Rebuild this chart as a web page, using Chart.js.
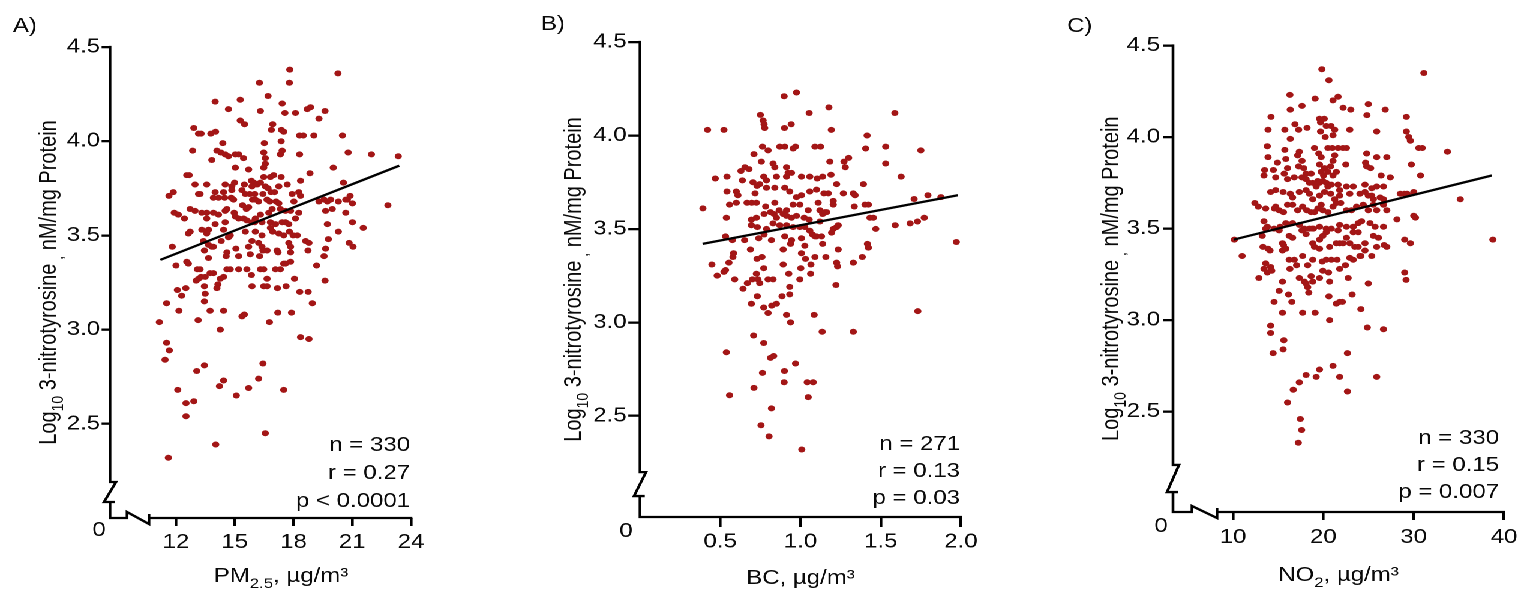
<!DOCTYPE html>
<html>
<head>
<meta charset="utf-8">
<script src="https://cdn.jsdelivr.net/npm/chart.js@4.4.0/dist/chart.umd.min.js"></script>
<style>
html,body{margin:0;padding:0;background:#fff;overflow:hidden;width:1520px;height:589px;}
#wrap{position:absolute;left:0;top:0;width:1266.667px;height:589px;transform:scaleX(1.2);transform-origin:0 0;}
canvas{position:absolute;top:0;}
</style>
</head>
<body>
<div id="wrap">
<canvas id="cA" width="415" height="589" style="left:0px"></canvas>
<canvas id="cB" width="425" height="589" style="left:415px"></canvas>
<canvas id="cC" width="440" height="589" style="left:840px"></canvas>
</div>
<script>
// ---------------- DATA ----------------
// Panel A: PM2.5 (µg/m³) vs Log10 3-nitrotyrosine
const pm25 = [
17.81,20.27,17.79,16.26,16.70,14.00,15.28,14.68,17.42,16.31,
17.56,18.10,18.70,18.87,19.61,19.30,15.28,15.50,16.94,12.91,
13.15,13.28,13.78,14.02,16.87,17.38,17.50,18.31,18.50,19.04,
20.50,17.37,16.51,14.39,14.09,14.29,14.51,14.68,15.03,15.20,
15.45,13.83,12.85,16.48,16.56,17.33,17.42,18.31,20.79,21.98,
23.35,15.03,15.71,16.56,16.48,20.03,12.55,12.67,18.84,16.48,
16.82,16.99,17.37,15.85,15.97,12.97,13.57,14.51,14.85,14.99,
15.49,15.88,16.14,16.31,16.56,16.70,17.25,17.68,18.36,20.55,
11.86,11.64,13.15,13.23,14.00,14.43,14.85,15.37,15.54,15.76,
16.02,16.44,16.85,17.03,17.93,18.27,18.36,20.89,20.75,20.67,
19.30,19.56,19.73,19.90,20.29,21.01,22.82,13.91,14.17,14.48,
14.82,14.94,15.91,16.05,16.22,16.65,16.79,17.11,17.25,18.02,
15.71,15.40,15.59,14.97,11.91,12.12,12.43,12.72,12.97,13.32,
13.57,13.91,14.17,14.51,14.60,15.03,15.20,15.45,15.62,16.05,
16.31,16.74,16.91,17.33,17.59,17.85,18.27,19.64,19.98,20.67,
14.51,14.00,15.88,16.02,13.57,16.39,16.82,17.08,17.42,17.59,
17.76,18.10,19.73,21.01,21.56,20.29,12.63,12.72,13.32,13.66,
13.57,14.43,14.68,14.77,15.54,16.05,16.39,16.82,16.94,17.25,
17.50,17.79,18.19,17.98,18.62,18.79,19.78,11.81,13.40,13.66,
13.91,13.45,13.83,14.31,14.60,15.06,15.71,15.88,16.22,16.44,
16.39,16.65,17.16,17.76,17.85,18.74,19.64,20.84,21.04,13.66,
14.56,15.20,15.79,16.27,17.21,17.85,12.55,12.63,12.00,17.50,
17.59,17.85,19.18,19.56,13.09,13.23,13.74,13.91,14.60,14.77,
15.20,15.62,15.85,16.31,16.48,17.08,17.33,16.65,13.15,13.28,
13.49,13.03,13.45,14.14,14.09,14.26,14.43,15.88,16.48,16.65,
17.18,17.62,18.05,19.61,12.07,12.29,12.50,13.49,13.45,11.52,
12.15,13.74,14.43,15.37,15.49,13.13,17.20,17.90,16.77,18.32,
18.75,18.96,11.15,14.26,18.36,18.79,11.52,11.66,11.44,13.45,
16.44,13.06,14.43,14.22,16.22,15.71,17.50,12.09,15.08,12.91,
12.51,12.51,16.56,14.03,11.61];
const nitroA = [
4.38,4.36,4.31,4.31,4.24,4.21,4.22,4.17,4.20,4.16,
4.15,4.15,4.17,4.18,4.16,4.12,4.11,4.09,4.09,4.07,
4.04,4.04,4.04,4.05,4.06,4.06,4.05,4.03,4.03,4.03,
4.03,4.00,3.99,3.99,3.95,3.94,3.93,3.92,3.93,3.93,
3.91,3.90,3.95,3.94,3.91,3.93,3.95,3.93,3.94,3.93,
3.92,3.86,3.85,3.88,3.86,3.86,3.82,3.82,3.83,3.81,
3.81,3.82,3.81,3.79,3.78,3.77,3.77,3.77,3.76,3.78,
3.77,3.76,3.77,3.78,3.76,3.75,3.76,3.77,3.79,3.78,
3.73,3.71,3.72,3.72,3.73,3.73,3.74,3.74,3.72,3.72,
3.72,3.72,3.73,3.73,3.72,3.73,3.71,3.71,3.69,3.69,
3.68,3.69,3.68,3.69,3.68,3.67,3.66,3.70,3.70,3.70,
3.70,3.69,3.69,3.69,3.68,3.69,3.68,3.68,3.67,3.68,
3.65,3.66,3.64,3.62,3.62,3.61,3.59,3.64,3.63,3.62,
3.62,3.62,3.61,3.63,3.64,3.60,3.59,3.59,3.58,3.59,
3.61,3.62,3.64,3.64,3.63,3.63,3.62,3.63,3.64,3.62,
3.57,3.56,3.57,3.57,3.59,3.57,3.57,3.56,3.57,3.57,
3.56,3.59,3.56,3.57,3.54,3.52,3.51,3.52,3.53,3.53,
3.51,3.53,3.49,3.50,3.52,3.52,3.50,3.54,3.52,3.51,
3.50,3.52,3.50,3.50,3.47,3.46,3.48,3.44,3.47,3.45,
3.44,3.42,3.44,3.47,3.41,3.43,3.44,3.47,3.46,3.42,
3.44,3.42,3.42,3.46,3.44,3.42,3.43,3.46,3.44,3.38,
3.39,3.39,3.40,3.39,3.41,3.41,3.36,3.35,3.34,3.35,
3.35,3.36,3.34,3.39,3.32,3.32,3.30,3.30,3.32,3.32,
3.32,3.32,3.29,3.32,3.32,3.32,3.32,3.27,3.27,3.28,
3.28,3.26,3.23,3.24,3.22,3.27,3.28,3.23,3.23,3.23,
3.22,3.23,3.27,3.26,3.21,3.18,3.22,3.19,3.15,3.14,
3.10,3.10,3.10,3.07,3.08,3.05,3.09,3.09,3.04,3.20,
3.20,3.14,3.04,3.00,2.96,2.95,2.93,2.89,2.84,2.81,
2.82,2.78,2.73,2.70,2.74,2.69,2.68,2.68,2.65,2.62,
2.61,2.54,2.45,2.39,2.32];
const fitA_x = [11.2, 23.4];
const fitA_y = [3.37, 3.87];

// Panel B: BC (µg/m³)
const bc = [
0.975,0.898,1.054,1.177,1.588,0.750,0.767,0.773,0.777,0.942,
0.900,0.421,0.523,1.192,1.415,0.763,0.798,0.871,0.902,0.969,
0.954,1.090,1.125,1.406,1.531,1.750,0.710,0.756,0.829,0.840,
0.913,0.923,0.944,1.183,1.271,1.300,1.279,1.531,0.679,0.654,
0.629,0.469,0.542,0.638,0.704,0.729,0.771,0.788,0.850,0.913,
1.006,1.058,1.104,1.138,1.190,1.225,1.392,1.627,0.542,0.600,
0.610,0.558,0.600,0.667,0.717,0.746,0.788,0.840,0.902,0.933,
0.975,1.006,1.058,1.100,1.146,1.173,1.204,1.267,1.329,1.340,
1.335,1.402,1.423,1.708,1.794,1.875,0.392,0.696,0.725,0.783,
0.840,0.867,0.913,0.954,0.996,1.048,1.110,1.121,1.138,1.152,
1.204,0.538,0.694,0.725,0.773,0.813,0.835,0.850,0.892,0.913,
0.944,0.975,1.023,1.054,1.121,1.163,1.225,1.235,1.433,1.454,
1.590,1.683,1.729,1.771,0.694,0.731,0.788,0.829,0.871,0.913,
0.954,0.996,1.027,1.058,1.075,1.100,1.131,1.194,1.204,1.469,
1.971,0.533,0.575,0.652,0.740,0.773,0.819,0.902,0.944,1.006,
1.027,1.090,1.138,1.235,1.417,1.423,0.688,0.729,0.760,0.892,
0.938,1.006,1.031,1.065,1.090,1.158,1.225,1.231,1.329,1.385,
0.448,0.481,0.533,0.523,0.554,0.579,0.583,0.590,0.642,0.669,
0.700,0.725,0.735,0.746,0.771,0.798,0.829,0.892,0.927,0.933,
0.996,1.002,1.063,1.221,0.731,0.694,0.771,0.798,0.821,0.850,
0.885,0.933,0.913,0.938,1.085,1.135,1.329,1.731,0.708,0.771,
0.538,0.813,0.833,0.969,0.763,0.900,0.898,1.042,1.079,0.710,
0.558,1.048,0.819,0.754,0.804,1.008];
const nitroB = [
4.23,4.21,4.12,4.15,4.12,4.11,4.08,4.06,4.04,4.06,
4.04,4.03,4.03,4.03,4.00,3.94,3.92,3.94,3.94,3.94,
3.93,3.94,3.94,3.93,3.94,3.92,3.90,3.86,3.85,3.83,
3.83,3.80,3.80,3.86,3.86,3.88,3.83,3.85,3.82,3.83,
3.81,3.77,3.78,3.76,3.75,3.73,3.78,3.76,3.78,3.78,
3.78,3.78,3.77,3.78,3.79,3.74,3.74,3.78,3.70,3.70,
3.68,3.63,3.64,3.64,3.69,3.74,3.72,3.72,3.72,3.70,
3.67,3.68,3.70,3.71,3.69,3.69,3.65,3.69,3.69,3.68,
3.62,3.63,3.63,3.66,3.68,3.67,3.61,3.64,3.64,3.62,
3.64,3.60,3.60,3.63,3.63,3.60,3.64,3.60,3.58,3.59,
3.63,3.56,3.55,3.56,3.58,3.59,3.58,3.56,3.58,3.57,
3.56,3.57,3.56,3.55,3.54,3.59,3.51,3.52,3.56,3.56,
3.52,3.53,3.54,3.56,3.52,3.51,3.50,3.53,3.52,3.52,
3.51,3.51,3.51,3.49,3.47,3.46,3.46,3.48,3.50,3.50,
3.43,3.46,3.44,3.44,3.45,3.47,3.44,3.46,3.44,3.45,
3.41,3.46,3.42,3.39,3.42,3.40,3.39,3.34,3.35,3.39,
3.42,3.37,3.34,3.31,3.35,3.35,3.32,3.30,3.32,3.35,
3.31,3.25,3.28,3.27,3.32,3.35,3.37,3.23,3.18,3.21,
3.23,3.26,3.23,3.21,3.29,3.23,3.23,3.31,3.26,3.19,
3.23,3.29,3.26,3.20,3.14,3.10,3.08,3.05,3.09,3.10,
3.14,3.15,3.04,3.00,3.04,2.95,2.95,3.06,2.93,2.89,
2.84,2.81,2.82,2.78,2.73,2.74,2.68,2.68,2.68,2.65,
2.61,2.60,2.54,2.45,2.39,2.32];
const fitB_x = [0.39, 1.98];
const fitB_y = [3.42, 3.68];

// Panel C: NO2 (µg/m³)
const no2 = [
19.84,31.13,20.62,16.30,19.09,21.63,21.07,17.64,24.98,16.34,
22.19,23.04,26.85,24.83,29.19,14.21,16.86,17.27,18.20,19.58,
19.69,20.10,20.32,20.85,21.26,22.93,25.91,29.19,29.46,29.64,
13.88,15.74,16.34,19.69,20.21,21.07,13.80,15.74,17.34,17.16,
19.02,19.50,19.76,20.51,20.99,21.63,22.19,22.56,21.26,21.07,
20.81,24.80,25.91,27.03,30.57,30.95,33.74,29.75,13.88,14.92,
15.85,17.64,16.04,17.27,17.83,18.09,18.65,19.58,19.76,20.14,
20.51,21.07,20.03,19.39,21.44,22.49,24.68,24.80,25.24,26.40,
27.41,30.76,13.50,13.43,14.47,14.73,15.67,16.04,16.78,17.64,
18.09,18.46,18.83,19.21,19.58,19.95,20.32,20.51,20.88,21.63,
21.81,22.56,23.31,24.61,25.36,25.91,26.66,14.17,14.73,15.55,
16.34,16.60,17.34,18.09,18.46,18.83,19.58,20.14,20.81,21.26,
21.81,22.93,24.05,24.61,24.98,25.36,25.54,26.29,26.66,28.52,
28.97,29.27,30.01,35.16,12.42,12.80,13.62,14.58,14.73,15.11,
15.59,16.04,16.60,17.16,17.71,18.16,18.65,19.02,19.39,19.76,
19.95,20.51,21.07,21.44,21.93,22.56,23.12,23.68,24.42,24.98,
25.54,26.66,27.03,25.91,30.20,30.01,13.43,13.80,14.55,15.22,
15.85,16.60,17.34,17.90,18.46,18.91,19.58,20.32,20.88,21.81,
22.56,23.31,23.86,24.24,25.17,25.73,26.66,28.15,10.15,11.01,
13.24,13.62,15.11,15.48,15.59,16.22,16.60,17.64,18.09,18.76,
19.58,19.95,20.32,21.63,21.81,22.56,23.31,23.86,24.61,25.54,
26.10,26.73,29.01,29.64,13.32,13.88,14.10,15.48,15.85,16.22,
17.71,18.83,19.02,19.58,20.70,21.44,22.19,22.93,23.49,23.86,
24.16,24.61,25.91,27.03,13.62,14.17,13.43,13.80,12.87,14.29,
15.48,16.30,16.78,17.04,18.27,18.83,19.88,20.32,20.88,21.52,
22.45,22.93,23.31,24.05,25.36,17.34,17.90,18.09,18.27,18.65,
18.83,19.58,19.95,20.70,20.58,21.81,22.75,24.98,29.01,29.16,
14.55,15.11,15.48,16.15,16.52,18.39,20.62,21.44,21.81,22.11,
23.19,24.16,17.71,19.09,20.70,24.87,26.66,14.17,14.17,14.44,
15.55,15.63,22.67,18.09,19.21,19.58,21.07,21.81,22.67,25.91,
16.67,17.34,16.04,17.45,17.60,17.23,38.77];
const nitroC = [
4.37,4.35,4.31,4.23,4.21,4.22,4.20,4.17,4.18,4.15,
4.16,4.15,4.15,4.12,4.11,4.11,4.07,4.04,4.05,4.10,
4.08,4.10,4.06,4.06,4.04,4.04,4.03,4.03,4.00,3.98,
4.04,4.04,3.99,4.03,4.00,4.01,3.95,3.93,3.92,3.90,
3.94,3.91,3.89,3.94,3.94,3.94,3.94,3.94,3.90,3.87,
3.84,3.91,3.89,3.89,3.94,3.94,3.92,3.85,3.89,3.86,
3.88,3.87,3.83,3.84,3.83,3.80,3.80,3.85,3.81,3.83,
3.81,3.79,3.79,3.76,3.81,3.85,3.86,3.84,3.83,3.79,
3.78,3.79,3.82,3.79,3.82,3.78,3.80,3.77,3.78,3.78,
3.77,3.75,3.75,3.73,3.75,3.76,3.75,3.73,3.74,3.74,
3.71,3.73,3.73,3.74,3.72,3.73,3.73,3.70,3.71,3.70,
3.69,3.67,3.70,3.71,3.69,3.66,3.68,3.70,3.69,3.66,
3.68,3.69,3.69,3.70,3.68,3.68,3.66,3.67,3.66,3.69,
3.69,3.69,3.70,3.66,3.64,3.62,3.61,3.61,3.62,3.60,
3.59,3.63,3.63,3.60,3.62,3.60,3.59,3.59,3.61,3.63,
3.60,3.59,3.62,3.64,3.64,3.60,3.60,3.62,3.63,3.60,
3.63,3.63,3.60,3.60,3.56,3.57,3.54,3.51,3.50,3.51,
3.53,3.53,3.52,3.50,3.50,3.50,3.51,3.50,3.50,3.52,
3.51,3.51,3.53,3.54,3.53,3.51,3.51,3.55,3.44,3.35,
3.46,3.50,3.49,3.42,3.41,3.46,3.45,3.49,3.47,3.50,
3.44,3.46,3.48,3.49,3.42,3.45,3.48,3.48,3.42,3.46,
3.45,3.41,3.44,3.42,3.40,3.39,3.38,3.38,3.39,3.33,
3.35,3.42,3.40,3.39,3.40,3.42,3.42,3.42,3.40,3.40,
3.35,3.38,3.40,3.40,3.31,3.29,3.28,3.26,3.23,3.27,
3.21,3.28,3.33,3.30,3.30,3.33,3.32,3.33,3.33,3.33,
3.30,3.34,3.33,3.35,3.35,3.23,3.21,3.20,3.18,3.24,
3.21,3.23,3.27,3.21,3.26,3.28,3.23,3.20,3.26,3.22,
3.10,3.16,3.04,3.14,3.10,3.15,3.13,3.09,3.10,3.10,
3.14,3.06,3.04,3.04,3.00,2.96,2.95,2.97,2.93,2.82,
2.84,2.89,2.82,2.70,2.69,2.73,2.75,2.69,2.61,2.69,
2.62,2.66,2.55,2.46,2.40,2.33,3.44];
const fitC_x = [10.1, 38.65];
const fitC_y = [3.44, 3.79];

// Tick values / labels
const yTickValues = [2.5, 3.0, 3.5, 4.0, 4.5];
const yTickLabels = ['2.5', '3.0', '3.5', '4.0', '4.5'];
const xTicksA = [12, 15, 18, 21, 24];
const xLabelsA = ['12', '15', '18', '21', '24'];
const xTicksB = [0.5, 1.0, 1.5, 2.0];
const xLabelsB = ['0.5', '1.0', '1.5', '2.0'];
const xTicksC = [10, 20, 30, 40];
const xLabelsC = ['10', '20', '30', '40'];

// Annotation texts
const statsA = ['n = 330', 'r = 0.27', 'p < 0.0001'];
const statsB = ['n = 271', 'r = 0.13', 'p = 0.03'];
const statsC = ['n = 330', 'r = 0.15', 'p = 0.007'];
const yTitleSegs = [{t:'Log'},{t:'10',sub:true},{t:' 3-nitrotyrosine'},{t:' ,',sub:true},{t:' nM/mg Protein'}];
const xTitleA = [{t:'PM'},{t:'2.5',sub:true},{t:', µg/m³'}];
const xTitleB = [{t:'BC, µg/m³'}];
const xTitleC = [{t:'NO'},{t:'2',sub:true},{t:', µg/m³'}];

// ---------------- RENDERING ----------------
const FF = '"Liberation Sans", Arial, Helvetica, sans-serif';
const RED = '#A31616';
const TXT = '#0a0a0a';
const LW = 2.3;
const FS = 20;
Chart.defaults.font.family = FF;
Chart.defaults.color = TXT;

function richText(ctx, segs, x, y, align, size) {
  const subSize = Math.round(size * 0.68);
  let total = 0;
  const ws = segs.map(s => { ctx.font = (s.sub ? subSize : size) + 'px ' + FF; const w = ctx.measureText(s.t).width; total += w; return w; });
  let cx = align === 'center' ? x - total / 2 : (align === 'right' ? x - total : x);
  ctx.textAlign = 'left'; ctx.textBaseline = 'alphabetic';
  segs.forEach((s, i) => {
    ctx.font = (s.sub ? subSize : size) + 'px ' + FF;
    ctx.fillText(s.t, cx, y + (s.sub ? size * 0.3 : 0));
    cx += ws[i];
  });
}

const decor = {
  id: 'decor',
  afterDraw(chart) {
    const p = chart.options.plugins.decor;
    const ctx = chart.ctx, ca = chart.chartArea;
    const xs = chart.scales.x, ys = chart.scales.y;
    ctx.save();
    ctx.strokeStyle = '#000'; ctx.lineWidth = LW; ctx.lineJoin = 'miter'; ctx.lineCap = 'butt';
    const X = ca.left, B = ca.bottom, h = LW / 2;
    const yb1 = ys.getPixelForValue(p.yBreak[1]), yb2 = ys.getPixelForValue(p.yBreak[0]);
    ctx.beginPath();
    ctx.moveTo(X, ca.top - h);
    ctx.lineTo(X, yb1); ctx.lineTo(X + 5, yb1); ctx.lineTo(X - 5, yb2); ctx.lineTo(X + 4, yb2);
    ctx.moveTo(X, yb2); ctx.lineTo(X, B);
    if (p.xBreak) {
      const a = xs.getPixelForValue(p.xBreak[0]), b = xs.getPixelForValue(p.xBreak[1]);
      ctx.lineTo(a, B); ctx.lineTo(a, B - 6); ctx.lineTo(b, B + 6); ctx.lineTo(b, B - 4);
      ctx.moveTo(b, B);
    }
    ctx.lineTo(ca.right + h, B);
    ctx.stroke();

    ctx.fillStyle = TXT;
    richText(ctx, [{t: p.letter}], p.letterPos[0], p.letterPos[1], 'left', FS);
    richText(ctx, [{t: '0'}], p.zeroPos[0], p.zeroPos[1], 'center', FS);
    p.stats.forEach((s, i) => richText(ctx, [{t: s}], p.statsX, p.statsY[i], 'right', FS));
    const xtx = p.xTitleX != null ? p.xTitleX : (ca.left + ca.right) / 2;
    richText(ctx, p.xTitle, xtx, p.xTitleY, 'center', FS);
    ctx.save();
    ctx.translate(p.yTitleX, (ca.top + ca.bottom) / 2);
    ctx.rotate(-Math.PI / 2);
    richText(ctx, yTitleSegs, 0, 7.2, 'center', FS);
    ctx.restore();
    ctx.restore();
  }
};

function makePanel(c) {
  const pts = c.xs.map((v, i) => ({x: v, y: c.ys[i]}));
  const fit = c.fitX.map((v, i) => ({x: v, y: c.fitY[i]}));
  return new Chart(document.getElementById(c.id), {
    type: 'scatter',
    data: {
      datasets: [
        {type: 'line', data: fit, borderColor: '#000', borderWidth: LW, pointRadius: 0, showLine: true, fill: false, order: 0, borderCapStyle: 'butt'},
        {type: 'scatter', data: pts, backgroundColor: RED, borderWidth: 0, pointRadius: 3.0, pointHoverRadius: 3.0, order: 1}
      ]
    },
    options: {
      responsive: false, animation: false, devicePixelRatio: 2, events: [],
      layout: {padding: {left: 0, top: c.top, right: c.right, bottom: 0}},
      plugins: {legend: {display: false}, tooltip: {enabled: false}, decor: c.decor},
      scales: {
        x: {
          type: 'linear', min: c.xMin, max: c.xMax,
          afterFit: s => { s.height = c.xH; },
          afterBuildTicks: s => { s.ticks = c.xTicks.map(v => ({value: v})); },
          ticks: {callback: (v, i) => c.xLabels[i], font: {size: FS}, color: TXT, padding: c.xPad, autoSkip: false, maxRotation: 0},
          grid: {drawOnChartArea: false, drawTicks: true, tickLength: c.xTL, color: '#000', lineWidth: LW},
          border: {display: false}
        },
        y: {
          type: 'linear', min: c.yMin, max: c.yMax,
          afterFit: s => { s.width = c.yW; },
          afterBuildTicks: s => { s.ticks = yTickValues.map(v => ({value: v})); },
          ticks: {callback: (v, i) => yTickLabels[i], font: {size: FS}, color: TXT, padding: c.yPad, autoSkip: false},
          grid: {drawOnChartArea: false, drawTicks: true, tickLength: c.yTL, color: '#000', lineWidth: LW},
          border: {display: false}
        }
      }
    },
    plugins: [decor]
  });
}

makePanel({
  id: 'cA', xs: pm25, ys: nitroA, fitX: fitA_x, fitY: fitA_y,
  xMin: 8.63, xMax: 24, yMin: 2.0, yMax: 4.5, xTicks: xTicksA, xLabels: xLabelsA,
  top: 47, right: 72.5, yW: 91.67, xH: 71, yTL: 7, yPad: 1.3, xTL: 8, xPad: 4.5,
  decor: {yBreak: [2.085, 2.191], xBreak: [9.5, 10.62], letter: 'A)', letterPos: [10.8, 32],
    zeroPos: [82.5, 536], stats: statsA, statsX: 341.7, statsY: [451, 479, 507],
    xTitle: xTitleA, xTitleX: 234.2, xTitleY: 582, yTitleX: 39.2}
});
makePanel({
  id: 'cB', xs: bc, ys: nitroB, fitX: fitB_x, fitY: fitB_y,
  xMin: 0, xMax: 2.0, yMin: 1.959, yMax: 4.5, xTicks: xTicksB, xLabels: xLabelsB,
  top: 42, right: 39.17, yW: 118.33, xH: 72, yTL: 9.75, yPad: 1.35, xTL: 10, xPad: 3,
  decor: {yBreak: [2.071, 2.199], xBreak: null, letter: 'B)', letterPos: [35.8, 30],
    zeroPos: [106.7, 537], stats: statsB, statsX: 385, statsY: [450, 477, 504],
    xTitle: xTitleB, xTitleX: null, xTitleY: 584, yTitleX: 61.7}
});
makePanel({
  id: 'cC', xs: no2, ys: nitroC, fitX: fitC_x, fitY: fitC_y,
  xMin: 3.36, xMax: 40, yMin: 1.952, yMax: 4.5, xTicks: xTicksC, xLabels: xLabelsC,
  top: 45.5, right: 26.67, yW: 137.5, xH: 77, yTL: 8.3, yPad: 2.5, xTL: 8, xPad: 5.5,
  decor: {yBreak: [2.061, 2.209], xBreak: [5.46, 8.23], letter: 'C)', letterPos: [49.2, 32],
    zeroPos: [127.5, 532], stats: statsC, statsX: 409.2, statsY: [444, 471, 498],
    xTitle: xTitleC, xTitleX: null, xTitleY: 581, yTitleX: 85}
});
</script>
</body>
</html>
